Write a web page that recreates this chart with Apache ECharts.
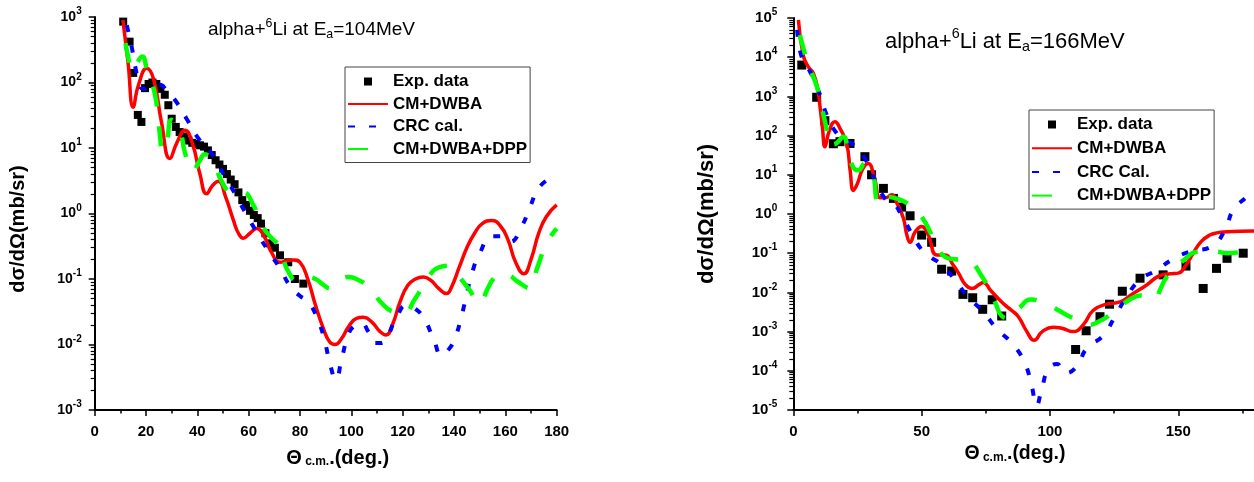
<!DOCTYPE html>
<html>
<head>
<meta charset="utf-8">
<script src="https://cdn.jsdelivr.net/npm/echarts@6/dist/echarts.min.js"></script>
<style>
  html, body { margin: 0; padding: 0; background: #fff; }
  #chart { width: 1254px; height: 482px; }
</style>
</head>
<body>
<div id="chart"></div>
<script>
// ---- alpha + 6Li elastic scattering, E = 104 MeV: [theta_cm (deg), dsigma/dOmega (mb/sr)]
const expA = [
  [11.1, 850], [13.6, 420], [15.0, 140], [16.8, 32], [18.2, 25], [19.6, 82], [21.0, 95],
  [22.5, 100], [24.0, 95], [25.6, 80], [27.3, 65], [28.7, 45], [30.0, 28], [31.6, 21],
  [33.1, 17.5], [34.8, 15], [36.5, 13], [38.0, 12], [39.5, 11.5], [41.0, 11], [42.6, 10.5],
  [44.1, 9.2], [45.6, 7.8], [47.1, 6.5], [48.6, 5.6], [50.0, 4.8], [51.5, 4.0], [53.0, 3.3],
  [54.5, 2.8], [56.0, 2.1], [57.5, 1.6], [59.0, 1.35], [60.5, 1.1], [62.0, 0.95], [63.5, 0.85],
  [64.8, 0.7], [66.5, 0.5], [68.3, 0.35], [70.2, 0.3], [72.2, 0.23], [75.4, 0.18], [78.0, 0.10],
  [81.3, 0.085]
];
const dwbaA = [
  [11, 900], [13, 200], [15, 42], [17, 90], [20.3, 165], [23, 110], [26, 25], [29.3, 6.9],
  [32, 12], [35.2, 18.7], [38, 12], [41, 4], [43.6, 2.0], [46, 2.7], [48.2, 3.1], [51, 1.8],
  [54, 0.8], [56, 0.5], [57.9, 0.42], [60.5, 0.5], [63.1, 0.59], [66, 0.45], [69, 0.25],
  [72.2, 0.18], [75, 0.19], [77.4, 0.195], [80, 0.18], [83, 0.1], [86, 0.04], [89, 0.018],
  [91.5, 0.011], [93.6, 0.01], [96, 0.012], [99, 0.019], [102, 0.025], [104.6, 0.026],
  [108, 0.022], [111, 0.016], [113.5, 0.014], [116, 0.02], [119, 0.045], [122, 0.08],
  [125, 0.1], [128, 0.107], [131, 0.095], [134, 0.072], [137.1, 0.06], [139, 0.075],
  [142, 0.15], [145, 0.3], [148, 0.5], [151, 0.7], [154.7, 0.78], [158, 0.65], [161, 0.4],
  [164, 0.18], [167.2, 0.12], [170, 0.2], [173, 0.5], [176, 0.9], [180, 1.35]
];
const crcA = [
  [12.5, 750], [14.4, 350], [16, 160], [17.5, 90], [19, 80], [22, 90], [25.4, 92], [28, 75],
  [31.3, 54], [35.8, 28], [40.4, 14], [45.6, 8.3], [50.8, 3.6], [54.7, 2.0], [58.6, 1.05],
  [63.1, 0.52], [67.6, 0.27], [72.2, 0.145], [76.3, 0.076], [80, 0.055], [83.2, 0.045],
  [87.1, 0.023], [89.7, 0.011], [91.7, 0.005], [94, 0.0029], [96.2, 0.006], [98.8, 0.014],
  [101, 0.019], [104, 0.021], [106.5, 0.016], [109.2, 0.0105], [111.5, 0.0105],
  [113.7, 0.0126], [117.6, 0.026], [121.5, 0.04], [124.5, 0.036], [128, 0.026],
  [131.9, 0.0126], [135.2, 0.0069], [138, 0.0085], [140.4, 0.0126], [143, 0.028],
  [145, 0.06], [146.9, 0.12], [150.1, 0.25], [154.7, 0.45], [158, 0.45], [161.8, 0.37],
  [166.3, 0.63], [169.6, 1.26], [173.5, 2.6], [180, 3.9]
];
const dppA = [
  [12, 400], [13, 250], [14.5, 150], [16.5, 200], [18.5, 250], [20.5, 150], [22.8, 85],
  [24.2, 45], [25.4, 16], [26.5, 9], [28, 12], [30, 27], [33.2, 18], [35, 9], [36.5, 5.9],
  [38.4, 4.5], [40.5, 6], [43, 8], [45, 7], [46.9, 5.2], [49.5, 3.1], [52, 2.2], [55, 2.0],
  [57.9, 2.1], [61.8, 1.35], [64, 0.85], [66.3, 0.56], [69, 0.42], [71.5, 0.33], [73.5, 0.2],
  [75.4, 0.13], [78.7, 0.095], [82.6, 0.107], [86, 0.1], [89, 0.082], [91.7, 0.072],
  [95, 0.09], [98.8, 0.107], [102, 0.1], [106.6, 0.076], [111.8, 0.043], [116, 0.032],
  [120.2, 0.030], [124.8, 0.05], [130.6, 0.115], [134, 0.15], [137.7, 0.16], [141, 0.12],
  [145.6, 0.072], [150.1, 0.043], [153, 0.07], [155.3, 0.10], [158, 0.12], [161.1, 0.115],
  [165, 0.09], [169.6, 0.072], [172.2, 0.14], [176.1, 0.35], [180, 0.59]
];

// ---- alpha + 6Li elastic scattering, E = 166 MeV
const expB = [
  [3.3, 6300], [9.1, 950], [12.3, 240], [15.6, 62], [18.2, 70], [22.1, 63], [27.9, 29],
  [30.5, 10], [35.1, 4.5], [39.0, 2.5], [42.2, 1.5], [45.5, 0.9], [50.0, 0.29], [53.9, 0.19],
  [57.8, 0.039], [61.7, 0.035], [66.1, 0.0089], [69.9, 0.0073], [73.8, 0.0037], [77.5, 0.0065],
  [81.2, 0.0025], [110.0, 0.00035], [114.1, 0.00105], [119.5, 0.0024], [123.2, 0.005],
  [128.2, 0.0107], [135.1, 0.023], [144.1, 0.028], [153.0, 0.047], [159.7, 0.0126],
  [164.9, 0.041], [169.0, 0.074], [175.3, 0.10]
];
const dwbaB = [
  [2.0, 90000], [3.9, 11000], [6, 5500], [7.8, 3900], [9.5, 1500], [10.4, 550], [11.4, 150],
  [12.3, 52], [14, 130], [16.2, 225], [18.5, 140], [20.8, 63], [22.2, 12], [23.4, 4], [25, 6],
  [27, 14], [29.2, 19.5], [31.5, 9], [33.8, 2.6], [36, 2.6], [38.4, 3.1], [40.5, 1.8],
  [42.9, 0.78], [44.2, 0.3], [45.5, 0.19], [47.5, 0.35], [50, 0.48], [52.5, 0.3], [55.9, 0.09],
  [59.1, 0.09], [62.3, 0.05], [64.5, 0.03], [67, 0.016], [69.7, 0.0126], [72.5, 0.016],
  [74, 0.018], [77, 0.011], [81.8, 0.0052], [85, 0.0035], [87.7, 0.0024], [91, 0.001],
  [93.8, 0.0006], [97, 0.001], [101.2, 0.0013], [105, 0.0012], [109, 0.001], [113, 0.0015],
  [116.9, 0.0035], [122, 0.005], [127.3, 0.0057], [132, 0.009], [137.7, 0.0155],
  [142.9, 0.027], [147, 0.03], [150, 0.031], [153, 0.05], [155.8, 0.1], [159, 0.2],
  [162.3, 0.29], [165, 0.33], [168.8, 0.35], [180, 0.37]
];
const crcB = [
  [1.5, 50000], [3.3, 10000], [6.5, 4300], [10.4, 1100], [13, 340], [16.9, 115], [20, 80],
  [23.4, 58], [27.9, 26], [31.8, 7.4], [35.7, 2.5], [39, 1.9], [42.2, 0.93], [46.1, 0.32],
  [50.6, 0.11], [54, 0.075], [57.1, 0.055], [63, 0.021], [67.5, 0.0085], [74, 0.0032],
  [79.2, 0.0012], [85.7, 0.00046], [90.2, 0.000155], [92.8, 0.000044], [94.8, 0.000013],
  [96.8, 0.000035], [99.4, 0.00011], [102.7, 0.00015], [106, 0.000087], [110.5, 0.00013],
  [114.3, 0.00037], [120.8, 0.0008], [125.3, 0.0024], [129.9, 0.0078], [135.1, 0.021],
  [141.6, 0.037], [147.4, 0.067], [154.5, 0.11], [163, 0.15], [168.2, 0.39], [171.4, 1.26],
  [176.6, 2.7], [180, 4]
];
const dppB = [
  [2.6, 37000], [3.9, 17000], [6, 6000], [8.5, 2400], [9.8, 1300], [11.5, 400], [13, 140],
  [13.7, 58], [16, 60], [19.5, 93], [21.4, 35], [23.5, 15], [25.3, 13], [27.9, 19.5], [30, 14],
  [31.2, 10], [33.1, 1.9], [35.1, 1.8], [36.4, 2.7], [40, 2.5], [44.2, 1.9], [50, 0.85],
  [55.9, 0.16], [59.1, 0.081], [63, 0.07], [67.5, 0.068], [72.7, 0.031], [78.6, 0.0057],
  [81.2, 0.0025], [84, 0.0022], [88, 0.004], [92.8, 0.0066], [96, 0.006], [99.3, 0.005],
  [104, 0.0033], [109, 0.0022], [115.5, 0.0015], [119, 0.0018], [124.5, 0.003], [131, 0.0065],
  [136, 0.0085], [140.9, 0.007], [143, 0.012], [145.5, 0.025], [151.3, 0.06], [158.4, 0.11],
  [164, 0.11], [169.5, 0.10], [176.6, 0.11], [180, 0.11]
];

// decade ranges of the two cross-section axes (exponents of 10)
const decadesA = [-3, 3];
const decadesB = [-5, 5];

const FONT = '"Liberation Sans", Arial, Helvetica, sans-serif';
const SQUARE = 'path://M0,0h10v10h-10z';

function decadeLabel(v) {
  const e = Math.round(Math.log10(v));
  return '{b|10}{s|' + e + '}';
}

function xAxis(gridIndex, max, interval, label, namePad, nameGap, nameSize) {
  return {
    type: 'value', gridIndex, min: 0, max, interval,
    axisLine: { show: true, onZero: false, lineStyle: { color: '#000', width: 2 } },
    axisTick: { show: true, length: 6, lineStyle: { color: '#000', width: 1.5 } },
    minorTick: { show: true, splitNumber: 2, length: 3.5, lineStyle: { color: '#000', width: 1.5 } },
    splitLine: { show: false },
    minorSplitLine: { show: false },
    axisLabel: {
      margin: 14, color: '#000', fontFamily: FONT, fontWeight: 'bold', fontSize: 15,
      showMaxLabel: label
    },
    name: '{t|\u0398} {c|c.m.}{t|.(deg.)}',
    nameLocation: 'middle',
    nameGap,
    nameTextStyle: {
      padding: namePad,
      rich: {
        t: { fontFamily: FONT, fontWeight: 'bold', fontSize: nameSize, color: '#000' },
        c: { fontFamily: FONT, fontWeight: 'bold', fontSize: 12, color: '#000', padding: [8, 0, 0, 0] }
      }
    }
  };
}

function yAxis(gridIndex, range, labelSize, labelMargin, namePad, nameGap, nameSize) {
  return {
    type: 'log', logBase: 10, gridIndex,
    min: Math.pow(10, range[0]), max: Math.pow(10, range[1]),
    interval: 1,
    axisLine: { show: true, lineStyle: { color: '#000', width: 2 } },
    axisTick: { show: true, length: 6, lineStyle: { color: '#000', width: 1.5 } },
    minorTick: { show: true, splitNumber: 9, length: 4, lineStyle: { color: '#000', width: 1.2 } },
    splitLine: { show: false },
    minorSplitLine: { show: false },
    axisLabel: {
      margin: labelMargin,
      formatter: decadeLabel,
      rich: {
        b: { fontFamily: FONT, fontWeight: 'bold', fontSize: labelSize, color: '#000' },
        s: { fontFamily: FONT, fontWeight: 'bold', fontSize: 10, color: '#000', padding: [0, 0, 11, 0] }
      }
    },
    name: 'd\u03c3/d\u03a9(mb/sr)',
    nameLocation: 'middle',
    nameGap,
    nameTextStyle: {
      fontFamily: FONT, fontWeight: 'bold', fontSize: nameSize, color: '#000', padding: namePad
    }
  };
}

const hiddenDot = { opacity: 0 };

function curves(xi, exp, dwba, crc, dpp, crcName, symSize) {
  return [
    { name: 'Exp. data', type: 'scatter', xAxisIndex: xi, yAxisIndex: xi, data: exp,
      symbol: 'rect', symbolSize: symSize, itemStyle: { color: '#000', opacity: 1 }, z: 2 },
    { name: 'CM+DWBA', type: 'line', xAxisIndex: xi, yAxisIndex: xi, data: dwba,
      smooth: 0.5, showSymbol: false, symbol: 'none', z: 3,
      lineStyle: { color: '#ff0000', width: 3.5 }, itemStyle: { color: '#ff0000' } },
    { name: crcName, type: 'line', xAxisIndex: xi, yAxisIndex: xi, data: crc,
      smooth: 0.5, showSymbol: false, symbol: 'none', z: 4,
      lineStyle: { color: '#0000ff', width: 4, type: [7, 14] }, itemStyle: { color: '#0000ff' } },
    { name: 'CM+DWBA+DPP', type: 'line', xAxisIndex: xi, yAxisIndex: xi, data: dpp,
      smooth: 0.5, showSymbol: false, symbol: 'none', z: 4,
      lineStyle: { color: '#00ff00', width: 4.5, type: [20, 20] }, itemStyle: { color: '#00ff00' } }
  ];
}

function legend(left, top, gap, crcName) {
  return {
    orient: 'vertical', left, top,
    itemWidth: 40, itemHeight: 8, itemGap: gap,
    padding: [6, 3, 5, 2],
    borderColor: '#444', borderWidth: 1, backgroundColor: '#fff',
    selectedMode: false,
    textStyle: { fontFamily: FONT, fontWeight: 'bold', fontSize: 17, color: '#000' },
    data: [
      { name: 'Exp. data', icon: SQUARE },
      { name: 'CM+DWBA', itemStyle: hiddenDot },
      { name: crcName, itemStyle: hiddenDot },
      { name: 'CM+DWBA+DPP', itemStyle: hiddenDot }
    ]
  };
}

function title(x, y, size, energy) {
  return {
    type: 'text', x, y,
    style: {
      text: '{n|alpha+}{u|6}{n|Li at E}{d|a}{n|=' + energy + 'MeV}',
      verticalAlign: 'middle', align: 'left',
      rich: {
        n: { fontFamily: FONT, fontSize: size, color: '#000' },
        u: { fontFamily: FONT, fontSize: size * 0.65, color: '#000', padding: [0, 0, size * 0.7, 0] },
        d: { fontFamily: FONT, fontSize: size * 0.65, color: '#000', padding: [size * 0.45, 0, 0, 0] }
      }
    }
  };
}

const chart = echarts.init(document.getElementById('chart'), null, { renderer: 'canvas' });
chart.setOption({
  animation: false,
  backgroundColor: '#fff',
  grid: [
    { left: 94.7, top: 17, width: 462, height: 393, outerBoundsMode: 'none', containLabel: false },
    { left: 793.3, top: 18, width: 513.3, height: 392, outerBoundsMode: 'none', containLabel: false }
  ],
  xAxis: [
    xAxis(0, 180, 20, true, [0, 0, 0, 24], 38, 20),
    xAxis(1, 200, 50, false, [0, 70, 0, 0], 31, 19.5)
  ],
  yAxis: [
    yAxis(0, decadesA, 14, 13, [0, 31, 0, 0], 66, 20),
    yAxis(1, decadesB, 15, 16, [0, 0, 0, 0], 75, 22)
  ],
  legend: [
    legend(345, 67, 5.5, 'CRC cal.'),
    legend(1029, 110, 6.7, 'CRC Cal.')
  ],
  graphic: [
    title(208, 30, 19, '104'),
    title(885, 42, 22, '166')
  ],
  series: [
    ...curves(0, expA, dwbaA, crcA, dppA, 'CRC cal.', 8),
    ...curves(1, expB, dwbaB, crcB, dppB, 'CRC Cal.', 9)
  ]
});
</script>
</body>
</html>
